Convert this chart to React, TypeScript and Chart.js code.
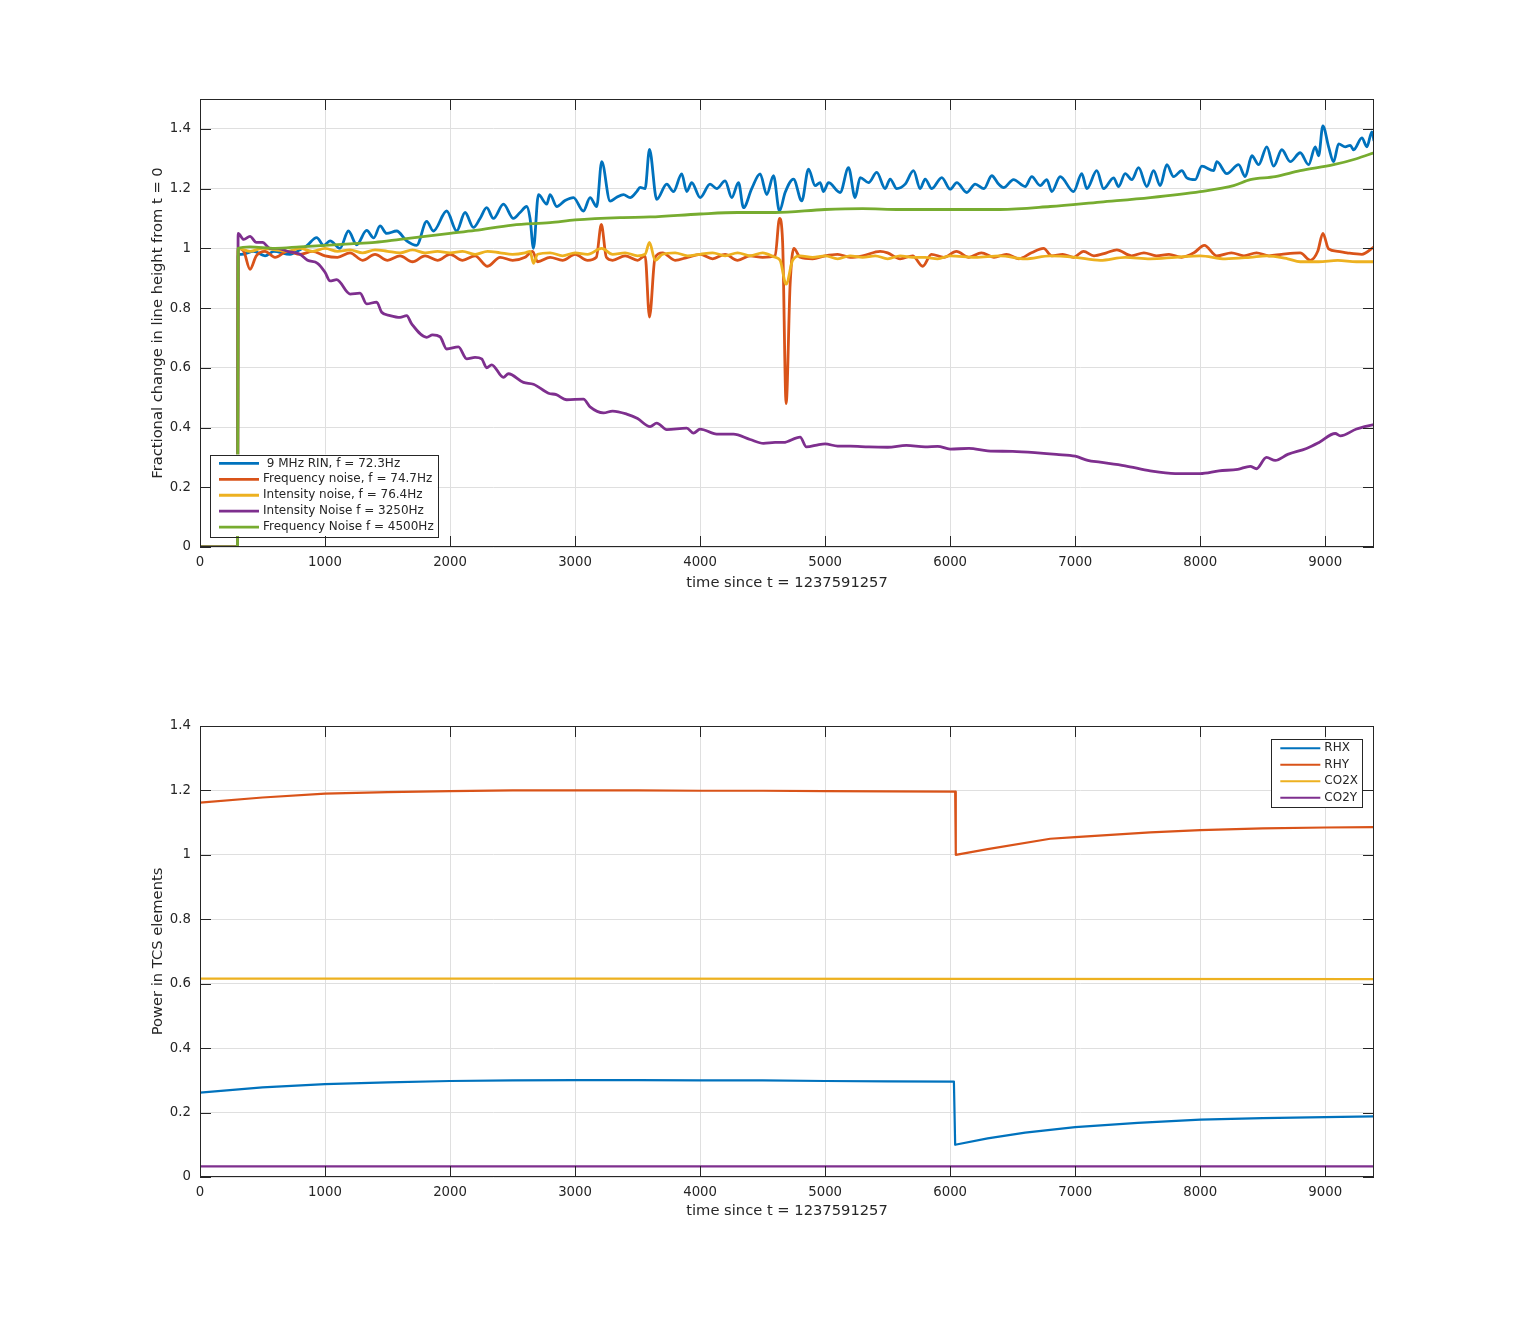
import React, { useEffect, useRef } from "react";
import { Chart, registerables } from "chart.js";

Chart.register(...registerables);

type Pt = [number, number];

// shared axis data
const xTicks = [0, 1000, 2000, 3000, 4000, 5000, 6000, 7000, 8000, 9000];
const xMax = 9390;
const topYTicks = [0, 0.2, 0.4, 0.6, 0.8, 1, 1.2, 1.4];
const bottomYTicks = [0, 0.2, 0.4, 0.6, 0.8, 1, 1.2, 1.4];
const xLabel = "time since t = 1237591257";

// top plot: fractional change in line height
const rin: Pt[] = [
  [0, 0], [300, 0], [305, 0.98], [330, 0.98], [430, 0.99], [520, 0.975], [590, 0.99], [720, 0.98],
  [800, 0.995], [853, 1.008], [933, 1.036], [990, 1.01], [1040, 1.025], [1120, 1.0], [1187, 1.058],
  [1253, 1.012], [1333, 1.06], [1390, 1.035], [1440, 1.075], [1493, 1.05], [1573, 1.058], [1653, 1.025],
  [1733, 1.01], [1813, 1.09], [1867, 1.058], [1973, 1.125], [2053, 1.058], [2120, 1.12], [2187, 1.07],
  [2240, 1.1], [2293, 1.136], [2347, 1.1], [2427, 1.148], [2507, 1.1], [2560, 1.12], [2613, 1.14],
  [2640, 1.1], [2667, 1.0], [2707, 1.18], [2773, 1.148], [2800, 1.18], [2853, 1.14], [2920, 1.16],
  [2987, 1.17], [3067, 1.125], [3120, 1.17], [3173, 1.14], [3213, 1.29], [3280, 1.158], [3330, 1.17],
  [3387, 1.18], [3440, 1.17], [3493, 1.19], [3520, 1.204], [3560, 1.2], [3595, 1.331], [3653, 1.164],
  [3733, 1.215], [3787, 1.19], [3853, 1.249], [3893, 1.19], [3933, 1.22], [4000, 1.17], [4080, 1.215],
  [4133, 1.2], [4200, 1.226], [4253, 1.17], [4307, 1.22], [4347, 1.136], [4413, 1.2], [4480, 1.249],
  [4533, 1.18], [4587, 1.243], [4635, 1.125], [4680, 1.187], [4747, 1.232], [4813, 1.159], [4867, 1.265],
  [4920, 1.21], [4960, 1.22], [4987, 1.19], [5027, 1.22], [5120, 1.187], [5187, 1.27], [5240, 1.17],
  [5280, 1.237], [5347, 1.22], [5413, 1.254], [5480, 1.2], [5520, 1.232], [5573, 1.2], [5640, 1.215],
  [5707, 1.26], [5760, 1.2], [5800, 1.232], [5853, 1.2], [5933, 1.237], [6000, 1.198], [6053, 1.22],
  [6133, 1.187], [6200, 1.215], [6270, 1.2], [6333, 1.243], [6387, 1.215], [6427, 1.203], [6507, 1.23],
  [6600, 1.207], [6653, 1.24], [6720, 1.21], [6773, 1.23], [6813, 1.19], [6880, 1.24], [6987, 1.19],
  [7053, 1.25], [7093, 1.2], [7173, 1.26], [7227, 1.2], [7307, 1.236], [7347, 1.207], [7400, 1.25],
  [7453, 1.23], [7507, 1.27], [7573, 1.207], [7627, 1.26], [7680, 1.21], [7733, 1.28], [7787, 1.24],
  [7853, 1.26], [7893, 1.236], [7960, 1.23], [8013, 1.275], [8107, 1.26], [8133, 1.29], [8213, 1.25],
  [8307, 1.28], [8360, 1.24], [8413, 1.31], [8467, 1.28], [8533, 1.34], [8587, 1.275], [8653, 1.33],
  [8720, 1.29], [8800, 1.32], [8867, 1.28], [8920, 1.34], [8947, 1.31], [8981, 1.41], [9027, 1.34],
  [9067, 1.29], [9107, 1.35], [9160, 1.34], [9200, 1.345], [9227, 1.33], [9293, 1.37], [9333, 1.34],
  [9373, 1.39], [9390, 1.36],
];

const freqLow: Pt[] = [
  [0, 0], [300, 0], [305, 1.0], [350, 0.99], [400, 0.93], [450, 0.975], [520, 0.99], [600, 0.97],
  [700, 0.99], [800, 0.98], [900, 0.99], [1000, 0.975], [1100, 0.97], [1200, 0.985], [1300, 0.96],
  [1400, 0.98], [1500, 0.96], [1600, 0.975], [1700, 0.955], [1800, 0.975], [1900, 0.96], [2000, 0.98],
  [2100, 0.96], [2200, 0.975], [2300, 0.94], [2400, 0.97], [2500, 0.96], [2600, 0.97], [2660, 0.99],
  [2700, 0.955], [2800, 0.97], [2900, 0.96], [3000, 0.98], [3100, 0.96], [3170, 0.97], [3210, 1.08],
  [3250, 0.97], [3300, 0.96], [3400, 0.975], [3500, 0.96], [3560, 0.975], [3595, 0.77], [3640, 0.97],
  [3700, 0.985], [3800, 0.96], [3900, 0.97], [4000, 0.98], [4100, 0.965], [4200, 0.98], [4300, 0.96],
  [4400, 0.975], [4500, 0.97], [4600, 0.975], [4635, 1.1], [4660, 1.02], [4688, 0.48], [4720, 0.88],
  [4750, 1.0], [4800, 0.97], [4900, 0.965], [5000, 0.975], [5100, 0.98], [5200, 0.97], [5300, 0.975],
  [5440, 0.99], [5500, 0.985], [5600, 0.965], [5700, 0.975], [5780, 0.94], [5850, 0.98], [5950, 0.97],
  [6050, 0.99], [6150, 0.97], [6250, 0.985], [6350, 0.97], [6450, 0.98], [6550, 0.965], [6650, 0.985],
  [6747, 1.0], [6813, 0.975], [6900, 0.98], [6987, 0.97], [7067, 0.99], [7150, 0.975], [7250, 0.985],
  [7333, 0.995], [7450, 0.975], [7550, 0.985], [7650, 0.975], [7750, 0.98], [7850, 0.97], [7950, 0.985],
  [8033, 1.01], [8133, 0.975], [8250, 0.985], [8350, 0.975], [8450, 0.985], [8550, 0.975], [8650, 0.98],
  [8800, 0.985], [8880, 0.96], [8940, 0.99], [8981, 1.05], [9027, 0.998], [9100, 0.99], [9173, 0.985],
  [9293, 0.98], [9390, 1.005],
];

const intLow: Pt[] = [
  [0, 0], [300, 0], [305, 1.0], [400, 0.99], [500, 1.0], [600, 0.995], [700, 0.99], [800, 1.0],
  [900, 0.99], [1000, 1.0], [1100, 0.99], [1200, 0.995], [1300, 0.985], [1400, 0.995], [1500, 0.99],
  [1600, 0.985], [1700, 0.995], [1800, 0.985], [1900, 0.99], [2000, 0.985], [2100, 0.99], [2200, 0.98],
  [2300, 0.99], [2400, 0.985], [2500, 0.98], [2600, 0.985], [2640, 0.99], [2667, 0.95], [2700, 0.98],
  [2800, 0.985], [2900, 0.975], [3000, 0.985], [3100, 0.98], [3213, 1.0], [3300, 0.98], [3400, 0.985],
  [3500, 0.975], [3560, 0.98], [3595, 1.02], [3640, 0.96], [3700, 0.98], [3800, 0.985], [3900, 0.975],
  [4000, 0.98], [4100, 0.985], [4200, 0.975], [4300, 0.985], [4400, 0.975], [4500, 0.985], [4600, 0.97],
  [4640, 0.96], [4688, 0.88], [4740, 0.96], [4800, 0.975], [4900, 0.97], [5000, 0.975], [5100, 0.965],
  [5200, 0.975], [5300, 0.97], [5400, 0.975], [5500, 0.965], [5600, 0.975], [5700, 0.97], [5800, 0.97],
  [5900, 0.965], [6000, 0.975], [6200, 0.97], [6400, 0.975], [6600, 0.965], [6800, 0.975], [7000, 0.97],
  [7200, 0.96], [7400, 0.97], [7600, 0.965], [7800, 0.97], [8000, 0.975], [8200, 0.965], [8400, 0.97],
  [8530, 0.975], [8700, 0.965], [8800, 0.955], [8947, 0.955], [9100, 0.96], [9250, 0.955], [9390, 0.955],
];

const intHigh: Pt[] = [
  [0, 0], [300, 0], [305, 1.05], [350, 1.03], [400, 1.04], [450, 1.02], [500, 1.02], [560, 1.0],
  [620, 1.0], [700, 0.99], [800, 0.98], [860, 0.96], [940, 0.95], [1000, 0.92], [1040, 0.891],
  [1093, 0.895], [1200, 0.847], [1280, 0.85], [1333, 0.814], [1413, 0.82], [1453, 0.786], [1520, 0.775],
  [1600, 0.769], [1653, 0.775], [1693, 0.747], [1813, 0.702], [1860, 0.71], [1920, 0.704], [1973, 0.663],
  [2067, 0.67], [2133, 0.63], [2200, 0.635], [2253, 0.63], [2293, 0.6], [2333, 0.61], [2427, 0.568],
  [2467, 0.58], [2587, 0.551], [2667, 0.545], [2787, 0.515], [2850, 0.51], [2933, 0.493], [3067, 0.495],
  [3120, 0.469], [3227, 0.449], [3300, 0.455], [3413, 0.445], [3500, 0.43], [3600, 0.403], [3653, 0.415],
  [3733, 0.393], [3893, 0.398], [3947, 0.381], [4000, 0.395], [4133, 0.378], [4267, 0.378], [4400, 0.36],
  [4507, 0.347], [4600, 0.35], [4667, 0.35], [4800, 0.368], [4850, 0.335], [4950, 0.343], [5000, 0.345],
  [5100, 0.338], [5200, 0.338], [5350, 0.335], [5500, 0.334], [5650, 0.34], [5800, 0.335], [5900, 0.337],
  [6000, 0.328], [6150, 0.33], [6300, 0.322], [6500, 0.32], [6700, 0.315], [6850, 0.31], [7000, 0.304],
  [7100, 0.29], [7200, 0.284], [7400, 0.272], [7600, 0.255], [7800, 0.246], [8000, 0.246], [8150, 0.255],
  [8300, 0.26], [8400, 0.27], [8450, 0.262], [8530, 0.3], [8600, 0.29], [8700, 0.31], [8850, 0.33],
  [8950, 0.35], [9080, 0.38], [9120, 0.372], [9250, 0.395], [9390, 0.41],
];

const freqHigh: Pt[] = [
  [0, 0], [300, 0], [305, 1.0], [400, 1.005], [600, 1.0], [800, 1.005], [1000, 1.01], [1200, 1.015],
  [1400, 1.02], [1600, 1.03], [1800, 1.04], [2000, 1.05], [2200, 1.06], [2500, 1.078], [2800, 1.086],
  [3000, 1.095], [3360, 1.103], [3600, 1.105], [4000, 1.115], [4300, 1.12], [4600, 1.12], [5000, 1.13],
  [5300, 1.133], [5600, 1.13], [6000, 1.13], [6400, 1.13], [6800, 1.14], [7200, 1.155], [7600, 1.17],
  [8000, 1.19], [8267, 1.21], [8400, 1.23], [8600, 1.24], [8800, 1.26], [9067, 1.28], [9250, 1.3],
  [9390, 1.32],
];

// bottom plot: power in TCS elements
const rhx: Pt[] = [
  [0, 0.262], [500, 0.278], [1000, 0.288], [1500, 0.294], [2000, 0.298], [2500, 0.3], [3000, 0.301],
  [3500, 0.301], [4000, 0.3], [4500, 0.3], [5000, 0.298], [5500, 0.297], [6030, 0.296], [6040, 0.1],
  [6300, 0.12], [6600, 0.138], [7000, 0.155], [7500, 0.168], [8000, 0.178], [8500, 0.183], [9000, 0.186],
  [9390, 0.188],
];
const rhy: Pt[] = [
  [0, 1.162], [500, 1.178], [1000, 1.19], [1500, 1.195], [2000, 1.198], [2500, 1.2], [3000, 1.2],
  [3500, 1.2], [4000, 1.199], [4500, 1.199], [5000, 1.198], [5500, 1.197], [6040, 1.196], [6045, 1.0],
  [6300, 1.018], [6800, 1.05], [7000, 1.055], [7600, 1.07], [8000, 1.077], [8500, 1.082], [9000, 1.085],
  [9390, 1.086],
];
const co2x: Pt[] = [[0, 0.616], [3000, 0.616], [6000, 0.615], [9390, 0.614]];
const co2y: Pt[] = [[0, 0.033], [9390, 0.033]];

const BLUE = "#0072BD";
const ORANGE = "#D95319";
const YELLOW = "#EDB120";
const PURPLE = "#7E2F8E";
const GREEN = "#77AC30";
const TEXT = "#262626";
const GRID = "#dfdfdf";
const FONT = "DejaVu Sans";

Chart.defaults.font.family = FONT;
Chart.defaults.color = TEXT;

// MATLAB-style box, inward ticks and boxed legend
const matlabBox = {
  id: "matlabBox",
  afterDraw(chart: any, _args: any, opts: any) {
    const { ctx, chartArea: a, scales } = chart;
    const tl = 11;
    ctx.save();
    ctx.strokeStyle = TEXT;
    ctx.lineWidth = 1;
    ctx.beginPath();
    for (const t of scales.x.ticks) {
      const px = Math.round(scales.x.getPixelForValue(t.value)) + 0.5;
      ctx.moveTo(px, a.bottom);
      ctx.lineTo(px, a.bottom - tl);
      ctx.moveTo(px, a.top);
      ctx.lineTo(px, a.top + tl);
    }
    for (const t of scales.y.ticks) {
      const py = Math.round(scales.y.getPixelForValue(t.value)) + 0.5;
      ctx.moveTo(a.left, py);
      ctx.lineTo(a.left + tl, py);
      ctx.moveTo(a.right, py);
      ctx.lineTo(a.right - tl, py);
    }
    ctx.stroke();
    ctx.strokeRect(Math.round(a.left) + 0.5, Math.round(a.top) + 0.5, Math.round(a.width) - 1, Math.round(a.height) - 1);

    // legend
    const sets = chart.data.datasets;
    ctx.font = `12px "${FONT}"`;
    const maxText = Math.max(...sets.map((d: any) => ctx.measureText(d.label).width));
    const w = 9 + 40 + 4 + maxText + 4;
    const h = 2 + opts.rowH * sets.length;
    const left = opts.anchor === "left" ? a.left + opts.dx : a.right - opts.dx - w;
    const top = opts.vAnchor === "top" ? a.top + opts.dy : a.bottom - opts.dy - h;
    ctx.fillStyle = "#ffffff";
    ctx.fillRect(left, top, w, h);
    ctx.strokeStyle = TEXT;
    ctx.strokeRect(Math.round(left) + 0.5, Math.round(top) + 0.5, Math.round(w), Math.round(h));
    ctx.textBaseline = "middle";
    ctx.textAlign = "left";
    sets.forEach((d: any, i: number) => {
      const cy = top + 1 + opts.rowH * (i + 0.5);
      ctx.strokeStyle = d.borderColor;
      ctx.lineWidth = opts.lineW;
      ctx.beginPath();
      ctx.moveTo(left + 9, cy);
      ctx.lineTo(left + 49, cy);
      ctx.stroke();
      ctx.fillStyle = TEXT;
      ctx.fillText(d.label, left + 53, cy);
    });
    ctx.restore();
  },
};

// later series are drawn on top, as in the source figure
function series(label: string, pts: Pt[], color: string, width: number, smooth: boolean, order: number) {
  return {
    label,
    data: pts.map(([x, y]) => ({ x, y })),
    borderColor: color,
    backgroundColor: color,
    borderWidth: width,
    pointRadius: 0,
    order,
    borderJoinStyle: "round" as const,
    cubicInterpolationMode: smooth ? ("monotone" as const) : ("default" as const),
    tension: 0,
  };
}

function scaleOpts(yTicks: number[], yMax: number, yTitle: string, xAxisHeight: number, xTitlePad: number) {
  const fmtY = (v: any) => String(Math.round(Number(v) * 10) / 10);
  const fmtX = (v: any) => String(Math.round(Number(v)));
  return {
    x: {
      type: "linear" as const,
      min: 0,
      max: xMax,
      afterBuildTicks: (s: any) => {
        s.ticks = xTicks.map((value) => ({ value }));
      },
      afterFit: (s: any) => {
        s.height = xAxisHeight;
      },
      grid: { color: GRID, drawTicks: false, lineWidth: 1 },
      border: { display: false },
      ticks: { padding: 8, font: { size: 13.3 }, color: TEXT, maxRotation: 0, autoSkip: false, callback: fmtX },
      title: { display: true, text: xLabel, font: { size: 14.7 }, color: TEXT, padding: { top: 0, bottom: xTitlePad } },
    },
    y: {
      type: "linear" as const,
      min: 0,
      max: yMax,
      afterBuildTicks: (s: any) => {
        s.ticks = yTicks.map((value) => ({ value }));
      },
      afterFit: (s: any) => {
        s.width = 200;
      },
      grid: { color: GRID, drawTicks: false, lineWidth: 1 },
      border: { display: false },
      ticks: { padding: 9, font: { size: 13.3 }, color: TEXT, callback: fmtY },
      title: { display: true, text: yTitle, font: { size: 14.7 }, color: TEXT, padding: { top: 149, bottom: 0 } },
    },
  };
}

function useChart(ref: React.RefObject<HTMLCanvasElement | null>, build: () => any) {
  useEffect(() => {
    if (!ref.current) return;
    const chart = new Chart(ref.current, build());
    return () => chart.destroy();
  }, []);
}

export default function App() {
  const topRef = useRef<HTMLCanvasElement | null>(null);
  const bottomRef = useRef<HTMLCanvasElement | null>(null);

  useChart(topRef, () => ({
    type: "line",
    data: {
      datasets: [
        series(" 9 MHz RIN, f = 72.3Hz", rin, BLUE, 2.8, true, 5),
        series("Frequency noise, f = 74.7Hz", freqLow, ORANGE, 2.8, true, 4),
        series("Intensity noise, f = 76.4Hz", intLow, YELLOW, 2.8, true, 3),
        series("Intensity Noise f = 3250Hz", intHigh, PURPLE, 2.8, true, 2),
        series("Frequency Noise f = 4500Hz", freqHigh, GREEN, 2.8, true, 1),
      ],
    },
    options: {
      responsive: false,
      animation: false,
      layout: { padding: { left: 0, right: 145, top: 99, bottom: 0 } },
      plugins: {
        legend: { display: false },
        tooltip: { enabled: false },
        matlabBox: { anchor: "left", vAnchor: "bottom", dx: 10, dy: 11, rowH: 15.9, lineW: 2.8 },
      },
      scales: scaleOpts(topYTicks, 1.5, "Fractional change in line height from t = 0", 114, 69),
    },
    plugins: [matlabBox],
  }));

  useChart(bottomRef, () => ({
    type: "line",
    data: {
      datasets: [
        series("RHX", rhx, BLUE, 2.2, false, 4),
        series("RHY", rhy, ORANGE, 2.2, false, 3),
        series("CO2X", co2x, YELLOW, 2.2, false, 2),
        series("CO2Y", co2y, PURPLE, 2.2, false, 1),
      ],
    },
    options: {
      responsive: false,
      animation: false,
      layout: { padding: { left: 0, right: 145, top: 65, bottom: 0 } },
      plugins: {
        legend: { display: false },
        tooltip: { enabled: false },
        matlabBox: { anchor: "right", vAnchor: "top", dx: 12, dy: 13, rowH: 16.5, lineW: 2.2 },
      },
      scales: scaleOpts(bottomYTicks, 1.4, "Power in TCS elements", 145, 102),
    },
    plugins: [matlabBox],
  }));

  return (
    <div style={{ position: "absolute", left: 0, top: 0, width: 1519, height: 1322, background: "#ffffff" }}>
      <canvas ref={topRef} width={1519} height={661} style={{ display: "block", width: 1519, height: 661 }} />
      <canvas ref={bottomRef} width={1519} height={661} style={{ display: "block", width: 1519, height: 661 }} />
    </div>
  );
}
